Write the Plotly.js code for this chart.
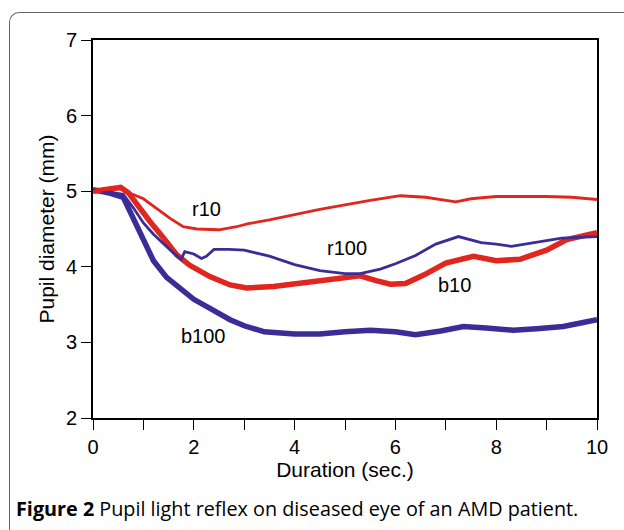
<!DOCTYPE html>
<html>
<head>
<meta charset="utf-8">
<script src="https://cdn.plot.ly/plotly-3.0.1.min.js"></script>
<style>
  html, body { margin: 0; padding: 0; background: #fff; }
  #wrap { position: relative; width: 624px; height: 530px; overflow: hidden; }
  #frame { position: absolute; left: 9px; top: 12px; width: 700px; height: 600px;
           border-left: 1px solid #666; border-top: 1px solid #666; border-top-left-radius: 10px; }
  #chart { position: absolute; left: 0; top: 0; width: 624px; height: 530px; }
</style>
</head>
<body>
<div id="wrap">
  <div id="frame"></div>
  <div id="chart"></div>
</div>
<script>
// Data
const r10_t = [0, 0.3, 0.55, 0.75, 1.0, 1.26, 1.53, 1.79, 2.06, 2.5, 2.85, 3.08, 3.5, 4.0, 4.5, 5.0, 5.5, 6.1, 6.6, 7.0, 7.2, 7.5, 8.0, 9.0, 9.5, 10];
const r10_v = [5.0, 5.02, 5.05, 4.97, 4.9, 4.77, 4.64, 4.53, 4.5, 4.49, 4.53, 4.57, 4.62, 4.69, 4.76, 4.82, 4.88, 4.94, 4.92, 4.88, 4.86, 4.9, 4.93, 4.93, 4.92, 4.89];

const r100_t = [0, 0.3, 0.6, 0.8, 1.0, 1.2, 1.4, 1.6, 1.75, 1.82, 2.0, 2.15, 2.25, 2.4, 2.7, 3.0, 3.5, 4.0, 4.5, 5.0, 5.3, 5.7, 6.0, 6.4, 6.8, 7.25, 7.7, 8.0, 8.3, 8.8, 9.3, 10];
const r100_v = [5.02, 4.99, 4.96, 4.78, 4.58, 4.43, 4.3, 4.18, 4.1, 4.2, 4.17, 4.11, 4.14, 4.23, 4.23, 4.22, 4.14, 4.03, 3.95, 3.91, 3.91, 3.97, 4.04, 4.15, 4.3, 4.4, 4.32, 4.3, 4.27, 4.33, 4.38, 4.4];

const b10_t = [0, 0.3, 0.55, 0.7, 0.87, 1.13, 1.4, 1.66, 1.92, 2.32, 2.72, 3.05, 3.58, 4.24, 4.9, 5.3, 5.6, 5.9, 6.2, 6.56, 7.0, 7.55, 8.0, 8.47, 9.0, 9.4, 10];
const b10_v = [5.0, 5.02, 5.05, 4.98, 4.82, 4.6, 4.38, 4.16, 4.02, 3.87, 3.76, 3.72, 3.74, 3.8, 3.85, 3.88, 3.82, 3.77, 3.78, 3.89, 4.05, 4.14, 4.08, 4.1, 4.22, 4.36, 4.45];

const b100_t = [0, 0.3, 0.6, 0.8, 1.0, 1.2, 1.46, 1.75, 2.0, 2.4, 2.72, 3.0, 3.4, 4.0, 4.5, 5.0, 5.5, 6.0, 6.4, 6.9, 7.35, 7.8, 8.34, 8.8, 9.33, 9.7, 10];
const b100_v = [5.02, 4.98, 4.92, 4.65, 4.36, 4.08, 3.86, 3.7, 3.57, 3.42, 3.3, 3.22, 3.14, 3.11, 3.11, 3.14, 3.16, 3.14, 3.1, 3.15, 3.21, 3.19, 3.16, 3.18, 3.21, 3.26, 3.3];

const xTickVals = [0, 1, 2, 3, 4, 5, 6, 7, 8, 9, 10];
const xTickText = ['0', '', '2', '', '4', '', '6', '', '8', '', '10'];
const yTickVals = [2, 3, 4, 5, 6, 7];

const seriesLabels = ['r10', 'r100', 'b10', 'b100'];
const labelX = [2.26, 5.03, 7.18, 2.20];
const labelY = [4.76, 4.25, 3.76, 3.08];

const RED = '#e0261e';
const BLUE = '#3b2d98';

const traces = [
  { x: b100_t, y: b100_v, mode: 'lines', line: { color: BLUE, width: 5.5 } },
  { x: b10_t, y: b10_v, mode: 'lines', line: { color: RED, width: 5.5 } },
  { x: r100_t, y: r100_v, mode: 'lines', line: { color: BLUE, width: 2.8 } },
  { x: r10_t, y: r10_v, mode: 'lines', line: { color: RED, width: 2.8 } }
];

const labelFont = { family: 'Liberation Sans, Arial, sans-serif', size: 20, color: '#000' };
const annotations = seriesLabels.map((s, i) => ({
  x: labelX[i], y: labelY[i], xref: 'x', yref: 'y', text: s, showarrow: false,
  font: labelFont
}));
annotations.push({
  xref: 'paper', yref: 'paper', x: -0.157, y: -0.24, xanchor: 'left', yanchor: 'middle',
  showarrow: false,
  text: '<b>Figure 2</b> Pupil light reflex on diseased eye of an AMD patient.',
  font: { family: 'Open Sans, sans-serif', size: 19.8, color: '#000' }
});

const axisFont = { family: 'Liberation Sans, Arial, sans-serif', size: 20, color: '#000' };
const titleFont = { family: 'Liberation Sans, Arial, sans-serif', size: 21, color: '#000' };

const layout = {
  width: 624, height: 530,
  margin: { l: 93, r: 27, t: 40, b: 112 },
  paper_bgcolor: 'rgba(0,0,0,0)',
  plot_bgcolor: 'rgba(0,0,0,0)',
  showlegend: false,
  xaxis: {
    range: [0, 10], tickvals: xTickVals, ticktext: xTickText,
    ticks: 'outside', ticklen: 10, tickwidth: 1, tickcolor: '#000',
    showline: true, linecolor: '#000', linewidth: 2, mirror: true,
    showgrid: false, zeroline: false, tickfont: axisFont,
    title: { text: 'Duration (sec.)', font: titleFont, standoff: 2 }
  },
  yaxis: {
    range: [2, 7], tickvals: yTickVals,
    ticks: 'outside', ticklen: 10, tickwidth: 1, tickcolor: '#000',
    showline: true, linecolor: '#000', linewidth: 2, mirror: true,
    showgrid: false, zeroline: false, tickfont: axisFont,
    title: { text: 'Pupil diameter (mm)', font: titleFont, standoff: 6 }
  },
  annotations: annotations
};

Plotly.newPlot('chart', traces, layout, { displayModeBar: false, staticPlot: true });
</script>
</body>
</html>
